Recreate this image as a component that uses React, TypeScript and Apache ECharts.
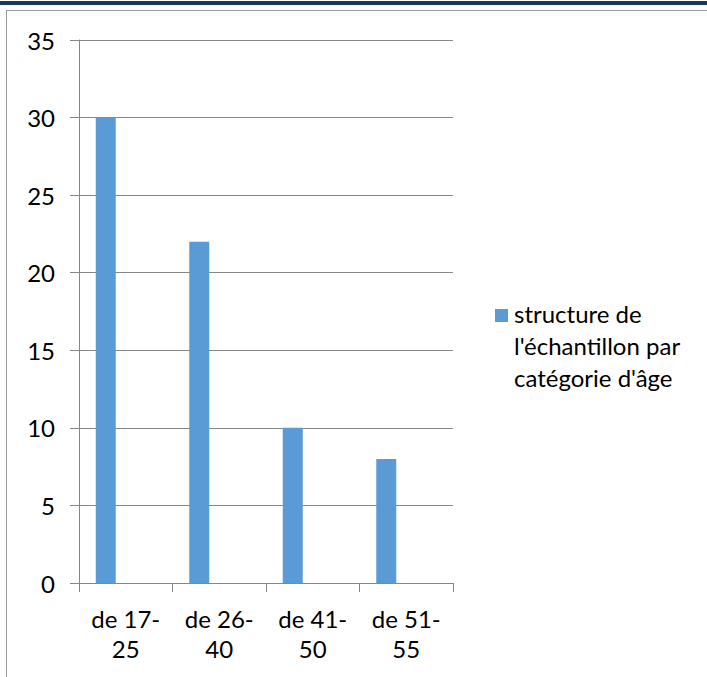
import React, { useEffect, useRef } from "react";
import * as echarts from "echarts";

const categories = ["de 17-\n25", "de 26-\n40", "de 41-\n50", "de 51-\n55"];
const values = [30, 22, 10, 8];
const emptySeries = [null, null, null, null];
const seriesName = "structure de\nl'échantillon par\ncatégorie d'âge";
const yTicks = { min: 0, max: 35, interval: 5 };

export default function App() {
  const ref = useRef<HTMLDivElement>(null);
  useEffect(() => {
    document.body.style.margin = "0";
    const chart = echarts.init(ref.current!, null, { renderer: "svg" });
    const font = "Lato";
    const fs = 24;
    chart.setOption({
      animation: false,
      backgroundColor: "#ffffff",
      textStyle: { fontFamily: font },
      grid: { left: 79, right: 254, top: 40, bottom: 94, containLabel: false },
      xAxis: {
        type: "category",
        data: categories,
        axisLine: { lineStyle: { color: "#868686", width: 1 } },
        axisTick: { show: true, length: 9, lineStyle: { color: "#868686" }, alignWithLabel: false },
        axisLabel: { color: "#000", fontSize: fs, fontFamily: font, margin: 20, lineHeight: 30 },
      },
      yAxis: {
        type: "value",
        min: yTicks.min,
        max: yTicks.max,
        interval: yTicks.interval,
        axisLine: { show: true, lineStyle: { color: "#868686", width: 1 } },
        axisTick: { show: true, length: 9, lineStyle: { color: "#868686" } },
        axisLabel: { color: "#000", fontSize: fs, fontFamily: font, margin: 24 },
        splitLine: { show: true, lineStyle: { color: "#868686", width: 1 } },
      },
      series: [
        {
          name: seriesName,
          type: "bar",
          data: values,
          barWidth: 20,
          barGap: "100%",
          itemStyle: { color: "#5B9BD5" },
        },
        {
          name: "hidden",
          type: "bar",
          data: emptySeries,
          barWidth: 20,
          itemStyle: { color: "transparent" },
        },
      ],
      graphic: [
        { type: "rect", shape: { x: 0, y: 1, width: 707, height: 4 }, style: { fill: "#17375E" } },
        { type: "line", shape: { x1: 6, y1: 10.5, x2: 707, y2: 10.5 }, style: { stroke: "#9a9a9a", lineWidth: 1 } },
        { type: "line", shape: { x1: 6.5, y1: 10, x2: 6.5, y2: 677 }, style: { stroke: "#9a9a9a", lineWidth: 1 } },
        { type: "rect", shape: { x: 495, y: 309, width: 13, height: 13 }, style: { fill: "#5B9BD5" } },
        {
          type: "text",
          x: 514,
          y: 297,
          style: {
            text: seriesName,
            fill: "#000",
            font: `${fs}px ${font}`,
            lineHeight: 32,
          },
        },
      ],
    });
    return () => chart.dispose();
  }, []);
  return <div ref={ref} style={{ width: 707, height: 677 }} />;
}
